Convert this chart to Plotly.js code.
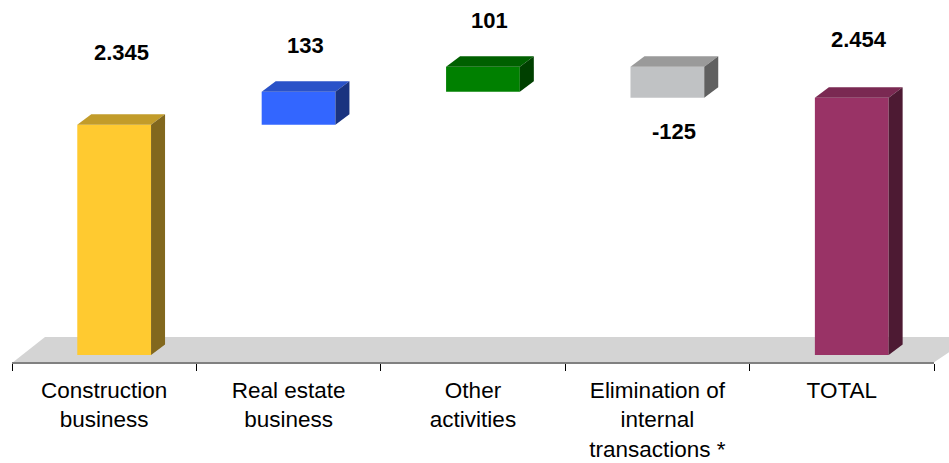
<!DOCTYPE html>
<html><head><meta charset="utf-8">
<script src="https://cdn.plot.ly/plotly-3.0.1.min.js"></script>
<style>html,body{margin:0;padding:0;background:#fff}#chart{width:949px;height:463px}</style>
</head><body><div id="chart"></div>
<script>
// ---- data ----
const categories = ['Construction<br>business', 'Real estate<br>business', 'Other<br>activities', 'Elimination of<br>internal<br>transactions *', 'TOTAL'];
const changes = [2345, 133, 101, -125, 2454];
const isTotal = [true, false, false, false, true];

// ---- style ----
const frontColors = ['#FFCA30', '#3366FF', '#008000', '#C0C2C4', '#993366'];
const topColors   = ['#C29C2A', '#2A52C8', '#006000', '#9A9A9A', '#7A2952'];
const sideColors  = ['#82681E', '#1A3380', '#004000', '#606060', '#4D1A33'];
const labelShift  = [72, 46, 46, -34, 58];

const W = 949, H = 463, ML = 12, MR = 15, MT = 0, MB = 60;
const plotBottomPx = 355, axisPx = 363;
const domainH = H - MT - MB;
const yDomainLow = (MT + domainH - plotBottomPx) / domainH;
const axisPos = (MT + domainH - axisPx) / domainH;
const yRange = [1416, 2848];
const barWidth = 0.40, barOffset = -0.146;
const depthX = 14, depthY = 10.5;

const pxPerUnit = (plotBottomPx - MT) / (yRange[1] - yRange[0]);
const catPx = (W - ML - MR) / categories.length;
const dxD = depthX / catPx, dyD = depthY / pxPerUnit;

// cumulative bases
const bases = [];
let run = 0;
changes.forEach((v, i) => {
  if (isTotal[i]) { bases.push(0); run = v; }
  else { bases.push(run); run += v; }
});

function fmt(v) {
  const s = Math.abs(v).toString().replace(/\B(?=(\d{3})+(?!\d))/g, '.');
  return (v < 0 ? '-' : '') + s;
}

const shapes = [{
  type: 'path', xref: 'paper', yref: 'paper', xsizemode: 'pixel', ysizemode: 'pixel',
  xanchor: 0, yanchor: axisPos, path: 'M0,0 L33,26 L960,26 L921,0 Z',
  fillcolor: '#D4D4D4', line: {width: 0}, layer: 'below'
}];
const annotations = [];
changes.forEach((v, i) => {
  const b = bases[i], e = b + v;
  const top = Math.max(b, e);
  const bot = Math.max(Math.min(b, e), yRange[0]);
  const xl = i + barOffset, xr = xl + barWidth;
  shapes.push({type: 'path', xref: 'x', yref: 'y', fillcolor: topColors[i], line: {width: 0},
    path: `M${xl},${top} L${xr},${top} L${xr + dxD},${top + dyD} L${xl + dxD},${top + dyD} Z`});
  shapes.push({type: 'path', xref: 'x', yref: 'y', fillcolor: sideColors[i], line: {width: 0},
    path: `M${xr},${bot} L${xr},${top} L${xr + dxD},${top + dyD} L${xr + dxD},${bot + dyD} Z`});
  annotations.push({
    x: xl + barWidth / 2 + dxD / 2, y: v < 0 ? Math.min(b, e) : top, xref: 'x', yref: 'y',
    text: '<b>' + fmt(v) + '</b>', showarrow: false, xanchor: 'center', yanchor: 'middle',
    yshift: labelShift[i], font: {family: 'Liberation Sans, Arial, sans-serif', size: 22, color: '#000'}
  });
});

const trace = {
  type: 'bar', x: categories, y: changes, base: bases,
  width: barWidth, offset: barOffset,
  marker: {color: frontColors, line: {width: 0}},
  hoverinfo: 'none', cliponaxis: true
};

const layout = {
  width: W, height: H,
  margin: {l: ML, r: MR, t: MT, b: MB},
  paper_bgcolor: '#fff', plot_bgcolor: 'rgba(0,0,0,0)',
  showlegend: false,
  font: {family: 'Liberation Sans, Arial, sans-serif', size: 22, color: '#000'},
  xaxis: {
    type: 'category', range: [-0.5, categories.length - 0.5],
    anchor: 'free', position: axisPos,
    showline: true, linecolor: '#808080', linewidth: 2,
    ticks: 'outside', tickson: 'boundaries', ticklen: 7, tickwidth: 1, tickcolor: '#000',
    ticklabelstandoff: 7,
    tickfont: {size: 22.5, color: '#000'},
    showgrid: false, zeroline: false, fixedrange: true
  },
  yaxis: {
    domain: [yDomainLow, 1], range: yRange, visible: false,
    showgrid: false, zeroline: false, fixedrange: true
  },
  shapes: shapes,
  annotations: annotations
};

Plotly.newPlot('chart', [trace], layout, {displayModeBar: false, staticPlot: true});
</script>
</body></html>
